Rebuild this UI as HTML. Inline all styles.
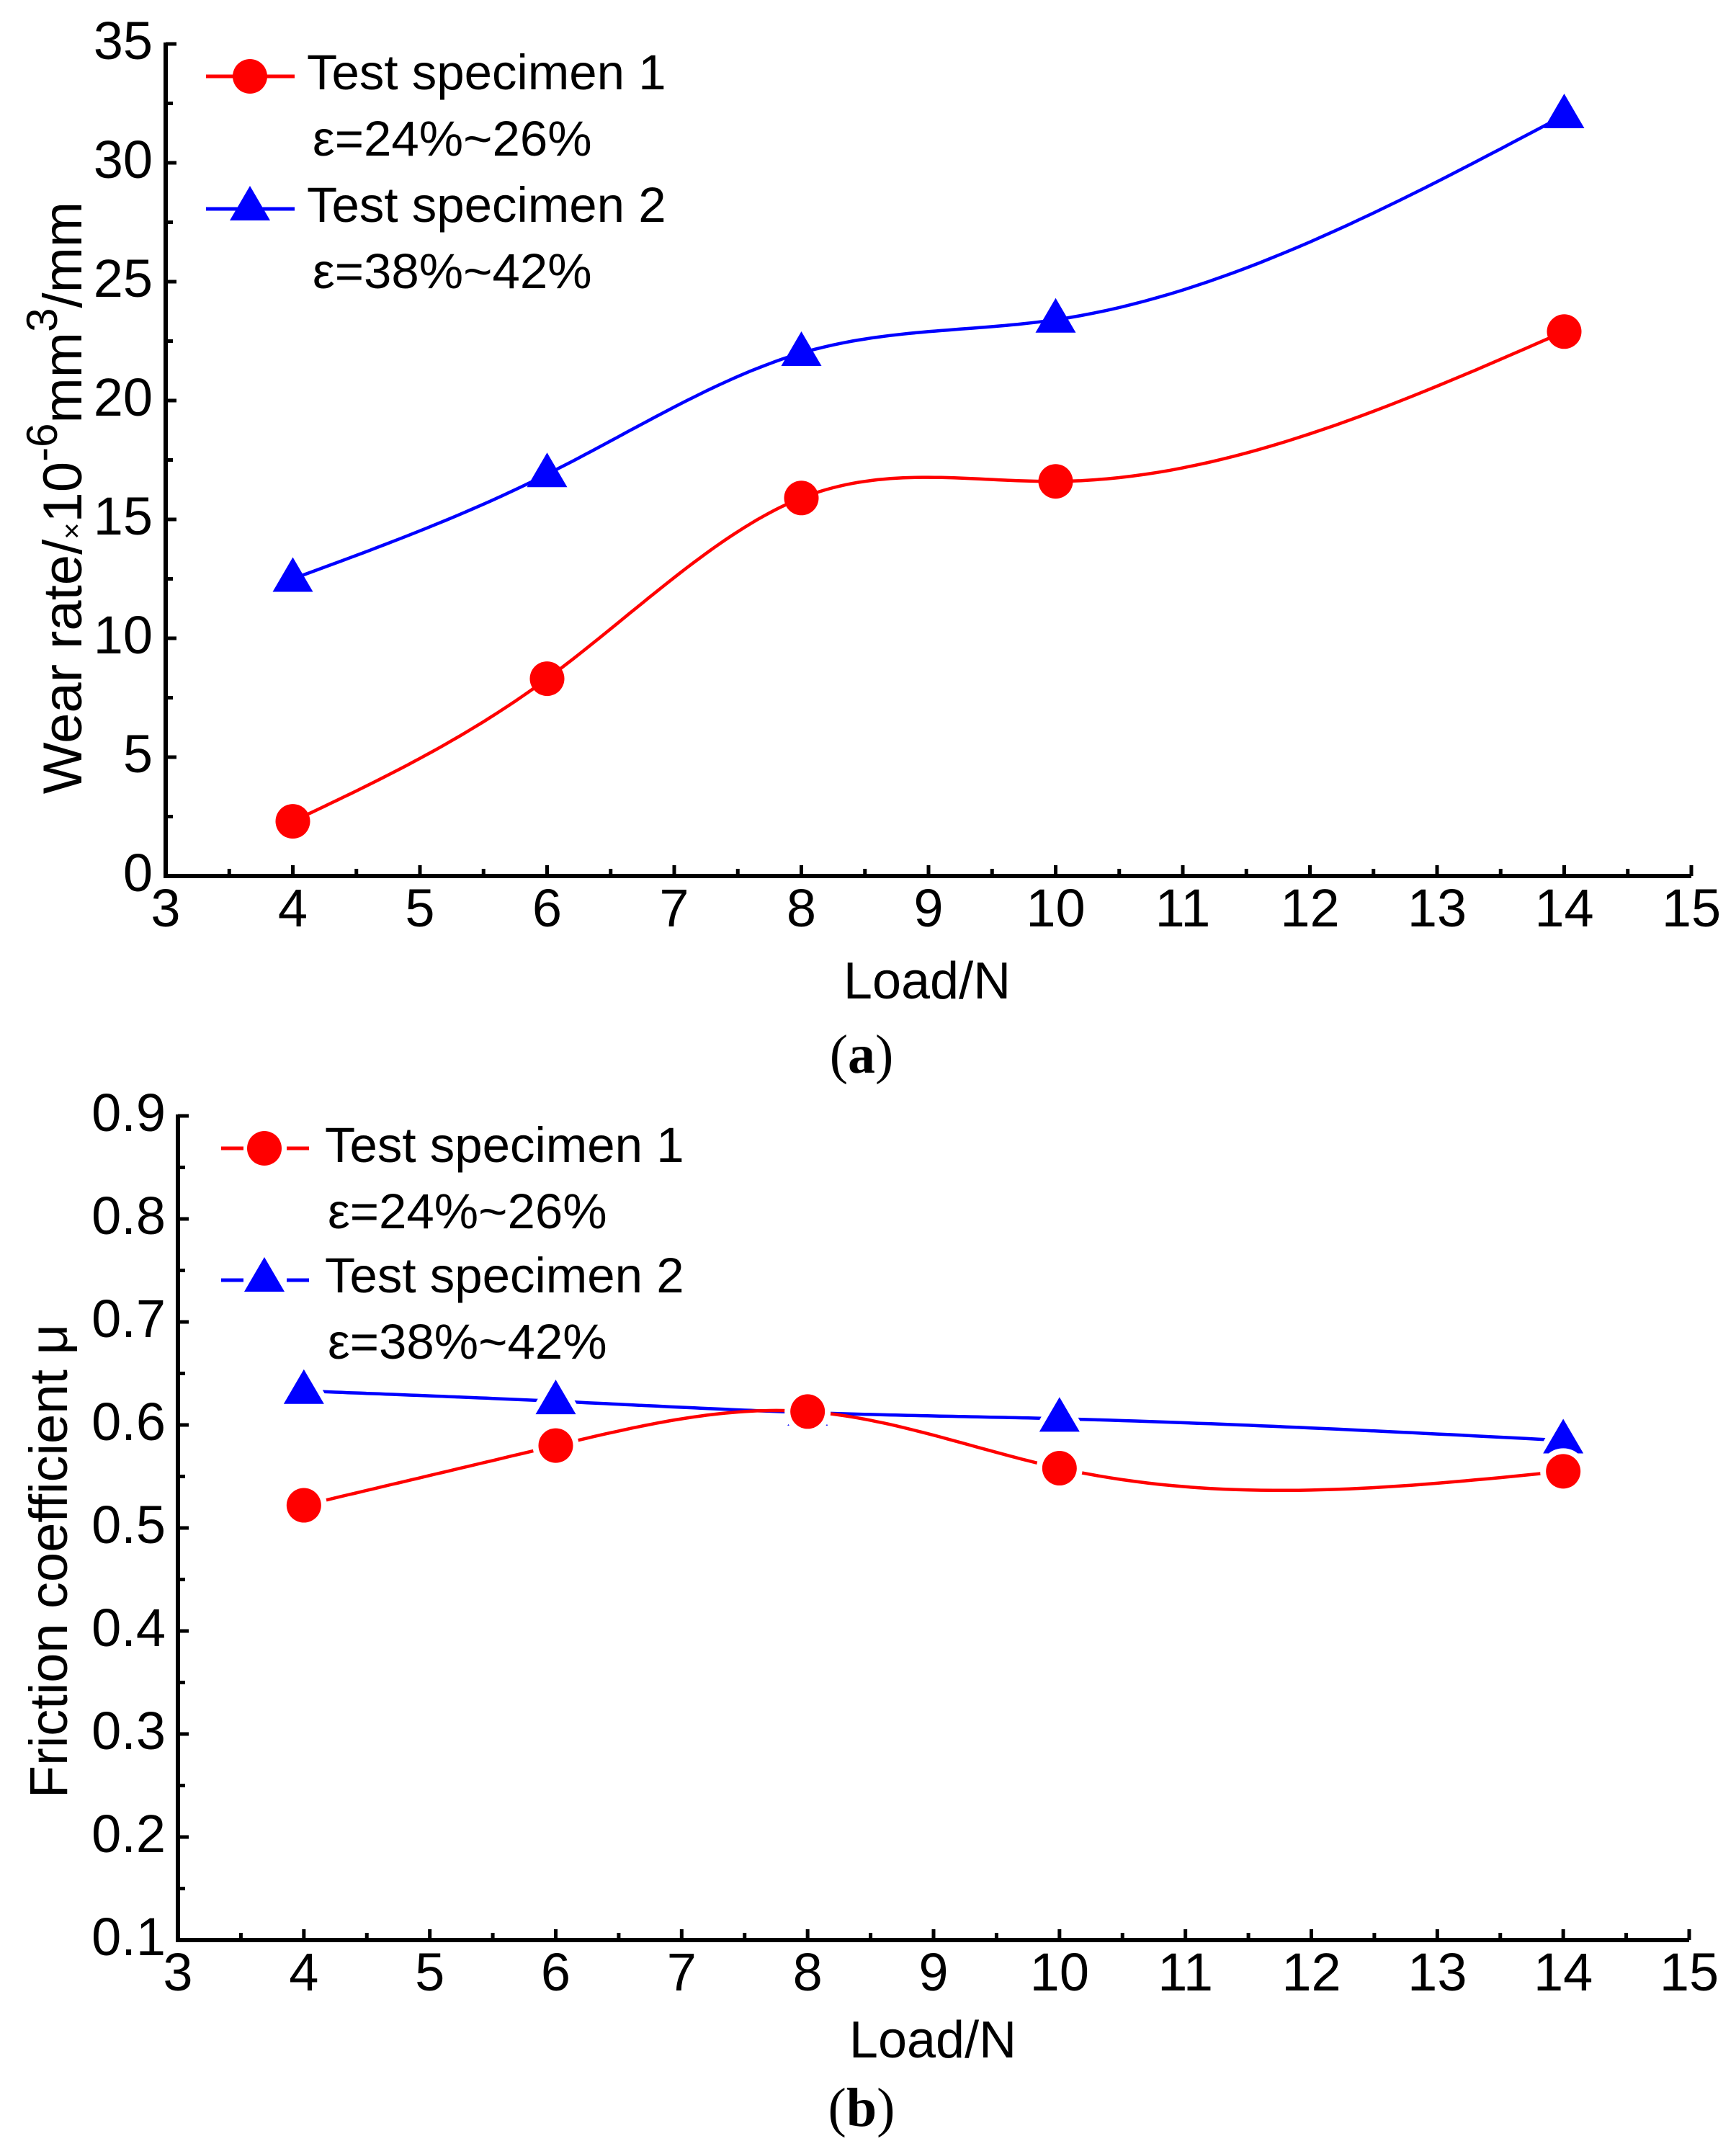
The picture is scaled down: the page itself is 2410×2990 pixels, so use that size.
<!DOCTYPE html>
<html><head><meta charset="utf-8">
<style>
html,body{margin:0;padding:0;background:#fff;}
svg{display:block;}
text{font-family:"Liberation Sans",Arial,sans-serif;fill:#000;}
.serif{font-family:"Liberation Serif","Times New Roman",serif;}
</style></head>
<body>
<svg id="fig" width="2410" height="2990" viewBox="0 0 2410 2990" xmlns="http://www.w3.org/2000/svg">
<rect width="2410" height="2990" fill="#fff"/>
<g id="chartA"></g>
<g id="chartB"></g>
</svg>
<script>
// ---- data ----
const loads = [4, 6, 8, 10, 14];
const wearSpec1 = [2.3, 8.3, 15.9, 16.6, 22.9];
const wearSpec2 = [12.5, 16.9, 22.0, 23.4, 32.0];
const fricSpec1 = [0.522, 0.580, 0.613, 0.558, 0.555];
const fricSpec2 = [0.633, 0.623, 0.612, 0.606, 0.585];
const xTicks = [3,4,5,6,7,8,9,10,11,12,13,14,15];
const wearTicks = [0,5,10,15,20,25,30,35];
const fricTicks = [0.1,0.2,0.3,0.4,0.5,0.6,0.7,0.8,0.9];
const fricTickLabels = ["0.1","0.2","0.3","0.4","0.5","0.6","0.7","0.8","0.9"];

const NS = "http://www.w3.org/2000/svg";
function mk(parent, tag, attrs, txt){
  const e = document.createElementNS(NS, tag);
  for (const k in attrs) e.setAttribute(k, attrs[k]);
  if (txt !== undefined) e.textContent = txt;
  parent.appendChild(e);
  return e;
}
// natural cubic spline y(x) through data, returns path in pixel space
function splinePath(xs, ys, X, Y){
  const n = xs.length;
  const h = [], al = [], l = [1], mu = [0], z = [0], c = new Array(n).fill(0), b = [], d = [];
  for (let i = 0; i < n-1; i++) h[i] = xs[i+1]-xs[i];
  for (let i = 1; i < n-1; i++) al[i] = 3/h[i]*(ys[i+1]-ys[i]) - 3/h[i-1]*(ys[i]-ys[i-1]);
  for (let i = 1; i < n-1; i++){
    l[i] = 2*(xs[i+1]-xs[i-1]) - h[i-1]*mu[i-1];
    mu[i] = h[i]/l[i];
    z[i] = (al[i]-h[i-1]*z[i-1])/l[i];
  }
  l[n-1] = 1; z[n-1] = 0;
  for (let j = n-2; j >= 0; j--){
    c[j] = z[j] - mu[j]*c[j+1];
    b[j] = (ys[j+1]-ys[j])/h[j] - h[j]*(c[j+1]+2*c[j])/3;
    d[j] = (c[j+1]-c[j])/(3*h[j]);
  }
  let p = "M" + X(xs[0]).toFixed(1) + "," + Y(ys[0]).toFixed(1);
  for (let j = 0; j < n-1; j++){
    const steps = 40;
    for (let s = 1; s <= steps; s++){
      const t = h[j]*s/steps;
      const v = ys[j] + b[j]*t + c[j]*t*t + d[j]*t*t*t;
      p += " L" + X(xs[j]+t).toFixed(1) + "," + Y(v).toFixed(1);
    }
  }
  return p;
}
function circleMarker(g, cx, cy, gap){
  const c = mk(g, "circle", {cx:cx, cy:cy, r:24, fill:"#ff0000", stroke: gap ? "#fff" : "none", "stroke-width": gap ? 16 : 0, "paint-order":"stroke"});
  
  
  return c;
}
function triMarker(g, cx, cy, gap){
  const pts = (cx)+","+(cy-30)+" "+(cx-28)+","+(cy+18)+" "+(cx+28)+","+(cy+18);
  const t = mk(g, "polygon", {points:pts, fill:"#0000ff", stroke: gap ? "#fff" : "none", "stroke-width": gap ? 16 : 0, "stroke-linejoin":"round", "paint-order":"stroke"});
  
  
  return t;
}

function drawChart(cfg){
  const g = document.getElementById(cfg.id);
  const X = v => cfg.x0 + (v - 3) * (cfg.x1 - cfg.x0) / 12;
  const Y = v => cfg.yb + (v - cfg.ymin) * (cfg.yt - cfg.yb) / (cfg.ymax - cfg.ymin);
  const ax = mk(g, "path", {d:"M"+cfg.x0+","+(cfg.yt-2)+" L"+cfg.x0+","+cfg.yb+" L"+cfg.x1+","+cfg.yb, fill:"none", stroke:"#000", "stroke-width":6});
  
  
  xTicks.forEach((t, i) => {
    const x = X(t);
    const tk = mk(g, "line", {x1:x, x2:x, y1:cfg.yb, y2:cfg.yb-15, stroke:"#000", "stroke-width":5});
    
    
    if (i < xTicks.length - 1){
      const mx = X(t + 0.5);
      const mt = mk(g, "line", {x1:mx, x2:mx, y1:cfg.yb, y2:cfg.yb-10, stroke:"#000", "stroke-width":5});
      
      
    }
    const lb = mk(g, "text", {x:x, y:cfg.yb+70, "font-size":74, "text-anchor":"middle"}, String(t));
    
    
  });
  cfg.yTicks.forEach((t, i) => {
    const y = Y(t);
    const tk = mk(g, "line", {x1:cfg.x0, x2:cfg.x0+15, y1:y, y2:y, stroke:"#000", "stroke-width":5});
    
    
    if (i < cfg.yTicks.length - 1){
      const my = Y(t + cfg.step/2);
      const mt = mk(g, "line", {x1:cfg.x0, x2:cfg.x0+10, y1:my, y2:my, stroke:"#000", "stroke-width":5});
      
      
    }
    const lb = mk(g, "text", {x:cfg.labRight, y:y+21, "font-size":74, "text-anchor":"end"}, cfg.yLabels[i]);
    
    
  });
  const l2 = mk(g, "path", {d:splinePath(loads, cfg.s2, X, Y), fill:"none", stroke:"#0000ff", "stroke-width":4.5, "stroke-linejoin":"round"});
  
  
  const l1 = mk(g, "path", {d:splinePath(loads, cfg.s1, X, Y), fill:"none", stroke:"#ff0000", "stroke-width":4.5, "stroke-linejoin":"round"});
  
  
  loads.forEach((l, i) => triMarker(g, X(l), Y(cfg.s2[i]), cfg.gap));
  loads.forEach((l, i) => circleMarker(g, X(l), Y(cfg.s1[i]), cfg.gap));
  const L = cfg.leg;
  if (cfg.gap){
    [[L.y1,"#ff0000"],[L.y2,"#0000ff"]].forEach(a => {
      const s1 = mk(g, "line", {x1:L.lx0, x2:L.lx0+31, y1:a[0], y2:a[0], stroke:a[1], "stroke-width":5});
      
      
      const s2 = mk(g, "line", {x1:L.lx1-31, x2:L.lx1, y1:a[0], y2:a[0], stroke:a[1], "stroke-width":5});
      
      
    });
  } else {
    [[L.y1,"#ff0000"],[L.y2,"#0000ff"]].forEach(a => {
      const s = mk(g, "line", {x1:L.lx0, x2:L.lx1, y1:a[0], y2:a[0], stroke:a[1], "stroke-width":5});
      
      
    });
  }
  circleMarker(g, L.mx, L.y1, false);
  triMarker(g, L.mx, L.y2 - 2, false);
  const t1 = mk(g, "text", {x:L.tx, y:L.b1, "font-size":69}, "Test specimen 1");
  
  
  const e1 = mk(g, "text", {x:L.ex, y:L.b1e, "font-size":69}, "ε=24%~26%");
  
  
  const t2 = mk(g, "text", {x:L.tx, y:L.b2, "font-size":69}, "Test specimen 2");
  
  
  const e2 = mk(g, "text", {x:L.ex, y:L.b2e, "font-size":69}, "ε=38%~42%");
  
  
  return g;
}

const gA = drawChart({id:"chartA", x0:230, x1:2348, yb:1216, yt:61, ymin:0, ymax:35, step:5,
  yTicks:wearTicks, yLabels:wearTicks.map(String), labRight:212, s1:wearSpec1, s2:wearSpec2, gap:false,
  leg:{lx0:286, lx1:409, mx:347, y1:106, y2:290, tx:426, ex:434, b1:124, b1e:216, b2:308, b2e:400}});
const gB = drawChart({id:"chartB", x0:247, x1:2345, yb:2693, yt:1549, ymin:0.1, ymax:0.9, step:0.1,
  yTicks:fricTicks, yLabels:fricTickLabels, labRight:230, s1:fricSpec1, s2:fricSpec2, gap:true,
  leg:{lx0:307, lx1:429, mx:367, y1:1594, y2:1777, tx:451, ex:455, b1:1613, b1e:1705, b2:1794, b2e:1886}});

let t = mk(gA, "text", {x:1287, y:1386, "font-size":72, "text-anchor":"middle"}, "Load/N");


t = mk(gA, "text", {x:1196, y:1489, "font-size":76, "text-anchor":"middle", class:"serif"});


t.innerHTML = '(<tspan font-weight="bold">a</tspan>)';
t = mk(gA, "text", {x:0, y:0, "font-size":76, "text-anchor":"middle", transform:"translate(113,691) rotate(-90)"});


t.innerHTML = 'Wear rate/<tspan font-size="40">×</tspan>10<tspan font-size="60" dy="-34">-6</tspan><tspan dy="34">mm</tspan><tspan font-size="60" dy="-34">3</tspan><tspan dy="34">/mm</tspan>';

t = mk(gB, "text", {x:1295, y:2856, "font-size":72, "text-anchor":"middle"}, "Load/N");


t = mk(gB, "text", {x:1196, y:2951, "font-size":76, "text-anchor":"middle", class:"serif"});


t.innerHTML = '(<tspan font-weight="bold">b</tspan>)';
t = mk(gB, "text", {x:0, y:0, "font-size":74, "text-anchor":"middle", transform:"translate(93,2167) rotate(-90)"}, "Friction coefficient μ");


</script>
</body></html>
